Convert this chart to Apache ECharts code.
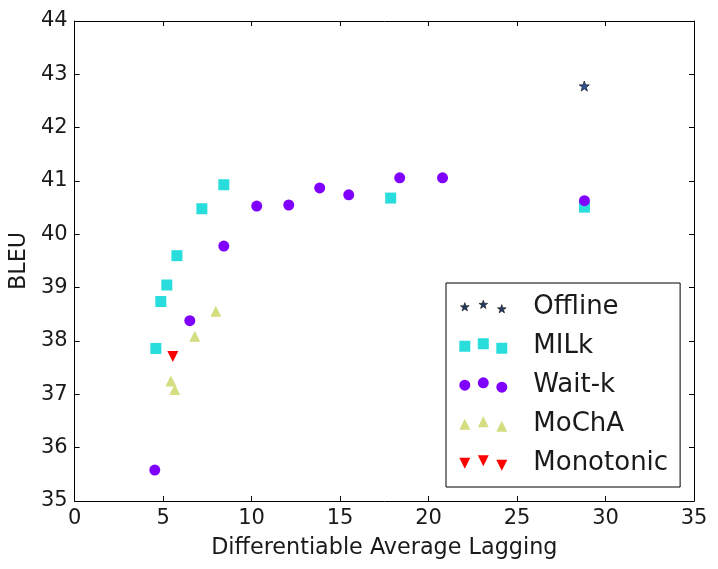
<!DOCTYPE html>
<html>
<head>
<meta charset="utf-8">
<script src="https://cdn.jsdelivr.net/npm/echarts@6/dist/echarts.min.js"></script>
<style>html,body{margin:0;padding:0;background:#fff}#c{width:718px;height:569px}</style>
</head>
<body>
<div id="c"></div>
<script>
const seriesNames = ['Offline', 'MILk', 'Wait-k', 'MoChA', 'Monotonic'];
const offlineX = [28.8];
const offlineY = [42.78];
const milkX = [4.59, 4.87, 5.21, 5.78, 7.19, 8.43, 17.86, 28.81];
const milkY = [37.86, 38.74, 39.05, 39.60, 40.48, 40.93, 40.68, 40.51];
const waitkX = [4.53, 6.51, 8.43, 10.29, 12.10, 13.85, 15.49, 18.37, 20.79, 28.81];
const waitkY = [35.58, 38.38, 39.78, 40.53, 40.55, 40.87, 40.74, 41.06, 41.06, 40.63];
const mochaX = [5.44, 5.66, 6.79, 7.98];
const mochaY = [37.25, 37.09, 38.09, 38.56];
const monoX = [5.55];
const monoY = [37.71];
const xTicks = [0, 5, 10, 15, 20, 25, 30, 35];
const yTicks = [35, 36, 37, 38, 39, 40, 41, 42, 43, 44];

const FONT = 'DejaVu Sans';
const TXT = '#1a1a1a';

function pair(xs, ys) { return xs.map((x, i) => [x, ys[i]]); }

function starPts(cx, cy, R) {
  const r = R * 0.4;
  let s = '';
  for (let i = 0; i < 10; i++) {
    const rad = (i % 2 === 0) ? R : r;
    const a = -Math.PI / 2 + i * Math.PI / 5;
    const px = cx + rad * Math.cos(a), py = cy + rad * Math.sin(a);
    s += (i === 0 ? 'M' : 'L') + px.toFixed(3) + ' ' + py.toFixed(3) + ' ';
  }
  return s + 'Z ';
}
function shapePath(shape, x, y, h) {
  if (shape === 'square') return `M${x-h} ${y-h} L${x+h} ${y-h} L${x+h} ${y+h} L${x-h} ${y+h} Z `;
  if (shape === 'circle') return `M${x-h} ${y} A${h} ${h} 0 1 0 ${x+h} ${y} A${h} ${h} 0 1 0 ${x-h} ${y} Z `;
  if (shape === 'up') return `M${x} ${y-h} L${x+h} ${y+h} L${x-h} ${y+h} Z `;
  if (shape === 'down') return `M${x-h} ${y-h} L${x+h} ${y-h} L${x} ${y+h} Z `;
  if (shape === 'star') return starPts(x, y, h);
  return '';
}
const ICON_W = 48, ICON_H = 15.4;
function legendIcon(shape, h) {
  const xs = [5.5, 24, 42.5];
  const ys = [7.9, 5.5, 9.9];
  let p = `M0 0 L0.01 0 L0 0.01 Z M${ICON_W} ${ICON_H} L${ICON_W-0.01} ${ICON_H} L${ICON_W} ${ICON_H-0.01} Z `;
  for (let i = 0; i < 3; i++) p += shapePath(shape, xs[i], ys[i], h);
  return 'path://' + p;
}
const starSymbol = 'path://' + starPts(0, 0, 1);

const chart = echarts.init(document.getElementById('c'), null, { renderer: 'canvas' });

const axisCommon = {
  type: 'value',
  axisLine: { show: true, onZero: false, lineStyle: { color: '#000', width: 1 } },
  axisTick: { show: true, inside: true, length: 5, lineStyle: { color: '#000', width: 1 } },
  splitLine: { show: false }
};

chart.setOption({
  animation: false,
  backgroundColor: '#fff',
  grid: { left: 74, right: 24, top: 21, bottom: 68, containLabel: false },
  xAxis: [
    Object.assign({}, axisCommon, {
      position: 'bottom', min: xTicks[0], max: xTicks[xTicks.length - 1], interval: 5,
      name: 'Differentiable Average Lagging', nameLocation: 'middle', nameGap: 36,
      nameTextStyle: { fontFamily: FONT, fontSize: 22.3, color: TXT },
      axisLabel: { fontFamily: FONT, fontSize: 21, color: TXT, margin: 7 }
    }),
    Object.assign({}, axisCommon, {
      position: 'top', min: xTicks[0], max: xTicks[xTicks.length - 1], interval: 5,
      axisLabel: { show: false }
    })
  ],
  yAxis: [
    Object.assign({}, axisCommon, {
      position: 'left', min: yTicks[0], max: yTicks[yTicks.length - 1], interval: 1,
      name: 'BLEU', nameLocation: 'middle', nameGap: 35, nameRotate: 90,
      nameTextStyle: { fontFamily: FONT, fontSize: 22.3, color: TXT },
      axisLabel: { fontFamily: FONT, fontSize: 21, color: TXT, margin: 7 }
    }),
    Object.assign({}, axisCommon, {
      position: 'right', min: yTicks[0], max: yTicks[yTicks.length - 1], interval: 1,
      axisLabel: { show: false }
    })
  ],
  legend: {
    orient: 'vertical',
    left: 446, top: 283,
    padding: [11, 12, 11, 13],
    borderColor: '#000', borderWidth: 1, borderRadius: 0,
    backgroundColor: '#fff',
    itemWidth: ICON_W, itemHeight: ICON_H,
    itemGap: 13,
    textStyle: { fontFamily: FONT, fontSize: 26, color: TXT, lineHeight: 26, padding: [0, 0, 0, 21] },
    data: [
      { name: 'Offline', icon: legendIcon('star', 4.6), itemStyle: { color: '#263a66', borderColor: '#111', borderWidth: 0.6 } },
      { name: 'MILk', icon: legendIcon('square', 5.5) },
      { name: 'Wait-k', icon: legendIcon('circle', 5.5) },
      { name: 'MoChA', icon: legendIcon('up', 5.5) },
      { name: 'Monotonic', icon: legendIcon('down', 5.5) }
    ]
  },
  series: [
    { name: seriesNames[0], type: 'scatter', data: pair(offlineX, offlineY), symbol: starSymbol, symbolSize: 10,
      itemStyle: { color: '#2e5294', borderColor: '#1c2233', borderWidth: 0.8, opacity: 1 } },
    { name: seriesNames[1], type: 'scatter', data: pair(milkX, milkY), symbol: 'rect', symbolSize: 11,
      itemStyle: { color: '#2adddd', opacity: 1 } },
    { name: seriesNames[2], type: 'scatter', data: pair(waitkX, waitkY), symbol: 'circle', symbolSize: 11,
      itemStyle: { color: '#8000ff', opacity: 1 } },
    { name: seriesNames[3], type: 'scatter', data: pair(mochaX, mochaY), symbol: 'triangle', symbolSize: 11,
      itemStyle: { color: '#d4dd80', opacity: 1 } },
    { name: seriesNames[4], type: 'scatter', data: pair(monoX, monoY), symbol: 'triangle', symbolRotate: 180, symbolSize: 11,
      itemStyle: { color: '#ff0000', opacity: 1 } }
  ]
});
</script>
</body>
</html>
